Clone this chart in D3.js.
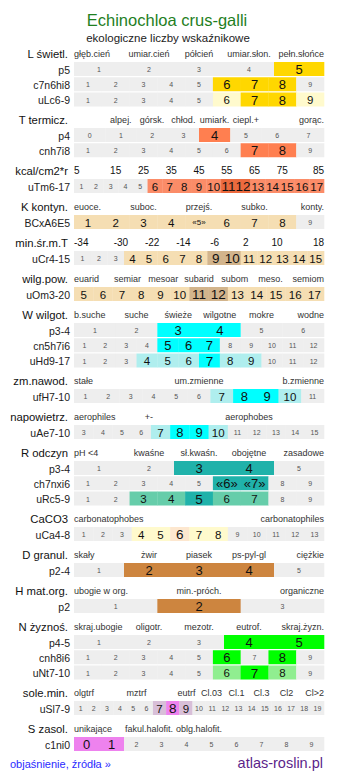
<!DOCTYPE html>
<html><head><meta charset="utf-8">
<script src="https://cdn.jsdelivr.net/npm/d3@7"></script>
<style>body{margin:0;background:#fff}svg{display:block;font-family:"Liberation Sans",Arial,sans-serif}</style>
</head><body><svg id="c" width="337" height="781"></svg>
<script>
const chartTitle = "Echinochloa crus-galli";
const chartSubtitle = "ekologiczne liczby wskaźnikowe";
const footerLeft = "objaśnienie, źródła »";
const footerRight = "atlas-roslin.pl";

const sectionTitles = ["L świetl.","T termicz.","kcal/cm2*r","K kontyn.","min.śr.m.T","wilg.pow.","W wilgot.","zm.nawod.","napowietrz.","R odczyn","CaCO3","D granul.","H mat.org.","N żyznoś.","sole.min.","S zasol."];
const sectionScaleLabels = [
  ["głęb.cień","umiar.cień","półcień","umiar.słon.","pełn.słońce"],
  ["","alpej.","górsk.","chłod.","umiark.","ciepl.+","","gorąc."],
  ["5","15","25","35","45","55","65","75","85"],
  ["euoce.","","suboc.","","przejś.","","subko.","","konty."],
  ["-34","-30","-22","-14","-6","2","10","18"],
  ["euarid","semiar","mesoar","subarid","subom","meso.","semiom"],
  ["b.suche","suche","świeże","wilgotne","mokre","wodne"],
  ["stałe","um.zmienne","b.zmienne"],
  ["aerophiles","+-","","aerophobes",""],
  ["pH <4","kwaśne","sł.kwaśn.","obojętne","zasadowe"],
  ["carbonatophobes","carbonatophiles"],
  ["skały","żwir","piasek","ps-pyl-gl","ciężkie"],
  ["ubogie w org.","min.-próch.","organiczne"],
  ["skraj.ubogie","oligotr.","mezotr.","eutrof.","skraj.żyzn."],
  ["olgtrf","","mztrf","","eutrf","Cl.03","Cl.1","Cl.3","Cl2","Cl>2"],
  ["unikające","fakul.halofit.","oblg.halofit.","",""]
];

const rowSection = [0,0,0,1,1,2,3,4,5,6,6,6,7,8,9,9,9,10,11,12,13,13,13,14,15];
const rowCodes = ["p5","c7n6hi8","uLc6-9","p4","cnh7i8","uTm6-17","BCxA6E5","uCr4-15","uOm3-20","p3-4","cn5h7i6","uHd9-17","ufH7-10","uAe7-10","p3-4","ch7nxi6","uRc5-9","uCa4-8","p2-4","p2","p4-5","cnh8i6","uNt7-10","uSl7-9","c1ni0"];
const rowCategories = [
  ["1","2","3","4","5"],
  ["1","2","3","4","5","6","7","8","9"],
  ["1","2","3","4","5","6","7","8","9"],
  ["0","1","2","3","4","5","6","7"],
  ["1","2","3","4","5","6","7","8","9"],
  ["1","2","3","4","5","6","7","8","9","10","11","12","13","14","15","16","17"],
  ["1","2","3","4","«5»","6","7","8","9"],
  ["1","2","3","4","5","6","7","8","9","10","11","12","13","14","15"],
  ["5","6","7","8","9","10","11","12","13","14","15","16","17"],
  ["1","2","3","4","5","6"],
  ["1","2","3","4","5","6","7","8","9","10","11","12"],
  ["1","2","3","4","5","6","7","8","9","10","11","12"],
  ["1","2","3","4","5","6","7","8","9","10","11"],
  ["3","4","5","6","7","8","9","10","11","12","13","14","15"],
  ["1","2","3","4","5"],
  ["1","2","3","4","5","«6»","«7»","8","9"],
  ["1","2","3","4","5","6","7","8","9"],
  ["1","2","3","4","5","6","7","8","9","10","11","12","13"],
  ["1","2","3","4","5"],
  ["1","2","3"],
  ["1","2","3","4","5"],
  ["1","2","3","4","5","6","7","8","9"],
  ["1","2","3","4","5","6","7","8","9"],
  ["1","2","3","4","5","6","7","8","9","10","11","12","13","14","15","16","17","18","19"],
  ["0","1","2","3","4","5","6","7","8","9"]
];
// 0 = outside range, 1 = tolerated, 2 = indicated, 3 = optimum, 4 = uncertain
const rowLevels = [
  [0,0,0,0,2],
  [0,0,0,0,0,2,2,2,0],
  [0,0,0,0,0,1,2,2,1],
  [0,0,0,0,2,0,0,0],
  [0,0,0,0,0,0,2,2,0],
  [0,0,0,0,0,1,1,1,1,1,3,3,1,1,1,1,1],
  [1,1,1,1,4,1,1,1,0],
  [0,0,0,1,1,1,1,1,3,3,1,1,1,1,1],
  [1,1,1,1,1,1,3,3,1,1,1,1,1],
  [0,0,2,2,0,0],
  [0,0,0,0,2,2,2,0,0,0,0,0],
  [0,0,0,1,1,1,3,1,1,0,0,0],
  [0,0,0,0,0,0,1,2,2,1,0],
  [0,0,0,0,1,2,2,1,0,0,0,0,0],
  [0,0,2,2,0],
  [0,0,0,0,0,2,2,0,0],
  [0,0,1,1,3,1,1,0,0],
  [0,0,0,1,1,3,1,1,0,0,0,0,0],
  [0,2,2,2,0],
  [0,2,0],
  [0,0,0,2,2],
  [0,0,0,0,0,2,0,2,0],
  [0,0,0,0,0,1,3,1,0],
  [0,0,0,0,0,0,1,3,1,0,0,0,0,0,0,0,0,0,0],
  [2,2,0,0,0,0,0,0,0,0]
];

// styles
const GREY = "#eeeeee";
const sectionPalettes = [
  ["#fffacd","#ffd700","#ffd700"],
  ["#fb8c68","#ff7f50","#ec6a3e"],
  ["#fb8c68","#ff7f50","#ec6a3e"],
  ["#f5deb3","#f5deb3","#d2b48c"],
  ["#f5deb3","#f5deb3","#d2b48c"],
  ["#f5deb3","#f5deb3","#d2b48c"],
  ["#afeeee","#00ffff","#00ffff"],
  ["#afeeee","#00ffff","#00ffff"],
  ["#afeeee","#00ffff","#00ffff"],
  ["#66cdaa","#20b2aa","#20b2aa"],
  ["#fffacd","#fffacd","#fde7cf"],
  ["#cd853f","#cd853f","#cd853f"],
  ["#cd853f","#cd853f","#cd853f"],
  ["#90ee90","#00ff00","#00ff00"],
  ["#d8bfd8","#ee82ee","#ee82ee"],
  ["#ee82ee","#ee82ee","#ee82ee"]
];
const levelFont = [7, 11.5, 13, 13.5, 8];

const svg = d3.select("#c");
const X0 = 74, X1 = 324, BAR_H = 14, PITCH = 15.25;

svg.append("text").attr("x",167).attr("y",20).attr("text-anchor","middle")
  .attr("dominant-baseline","central").attr("font-size",16.5).attr("fill","#1f7f1f").text(chartTitle);
svg.append("text").attr("x",168).attr("y",38).attr("text-anchor","middle")
  .attr("dominant-baseline","central").attr("font-size",11.5).attr("fill","#222").text(chartSubtitle);

let rowTop = 62;
sectionTitles.forEach((title, s) => {
  const hy = rowTop - 8.5;
  svg.append("text").attr("x",68).attr("y",hy).attr("text-anchor","end")
    .attr("dominant-baseline","central").attr("font-size",11.3).attr("fill","#111").text(title);
  const labels = sectionScaleLabels[s];
  const slot = d3.scaleBand().domain(d3.range(labels.length)).range([X0, X1]);
  labels.forEach((lab, i) => {
    if (!lab) return;
    let x, anchor;
    if (i === 0) { x = X0; anchor = "start"; }
    else if (i === labels.length - 1) { x = X1; anchor = "end"; }
    else { x = slot(i) + slot.bandwidth()/2; anchor = "middle"; }
    const numeric = /^-?\d+$/.test(lab);
    svg.append("text").attr("x",x).attr("y",hy).attr("text-anchor",anchor)
      .attr("dominant-baseline","central")
      .attr("font-size", numeric ? 10 : 9).attr("fill", numeric ? "#111" : "#333").text(lab);
  });
  const rows = d3.range(rowCodes.length).filter(r => rowSection[r] === s);
  rows.forEach((r, k) => {
    const y = rowTop + k * PITCH;
    svg.append("text").attr("x",70).attr("y",y + BAR_H/2 + 0.5).attr("text-anchor","end")
      .attr("dominant-baseline","central").attr("font-size",10.5).attr("fill","#222").text(rowCodes[r]);
    const cats = rowCategories[r];
    const x = d3.scaleBand().domain(cats).range([X0, X1]);
    const g = svg.append("g");
    const pal = sectionPalettes[s];
    const data = cats.map((c, i) => ({c, lv: rowLevels[r][i]}));
    g.selectAll("rect").data(data).join("rect")
      .attr("x", d => x(d.c)).attr("y", y).attr("width", x.bandwidth() + 0.3).attr("height", BAR_H)
      .attr("fill", d => d.lv === 0 ? GREY : d.lv === 4 ? pal[0] : pal[d.lv - 1]);
    g.selectAll("text").data(data).join("text")
      .attr("x", d => x(d.c) + x.bandwidth()/2).attr("y", y + BAR_H/2 + 0.5)
      .attr("text-anchor","middle").attr("dominant-baseline","central")
      .attr("font-size", d => levelFont[d.lv])
      .attr("fill", d => d.lv === 0 ? "#555" : "#111").text(d => d.c);
  });
  rowTop += 21 + 15 * rows.length;
});

svg.append("text").attr("x",10).attr("y",764).attr("dominant-baseline","central")
  .attr("font-size",11).attr("fill","#2a2aff").text(footerLeft);
svg.append("text").attr("x",323).attr("y",763).attr("text-anchor","end").attr("dominant-baseline","central")
  .attr("font-size",14.5).attr("fill","#5c1f8a").text(footerRight);
</script></body></html>
